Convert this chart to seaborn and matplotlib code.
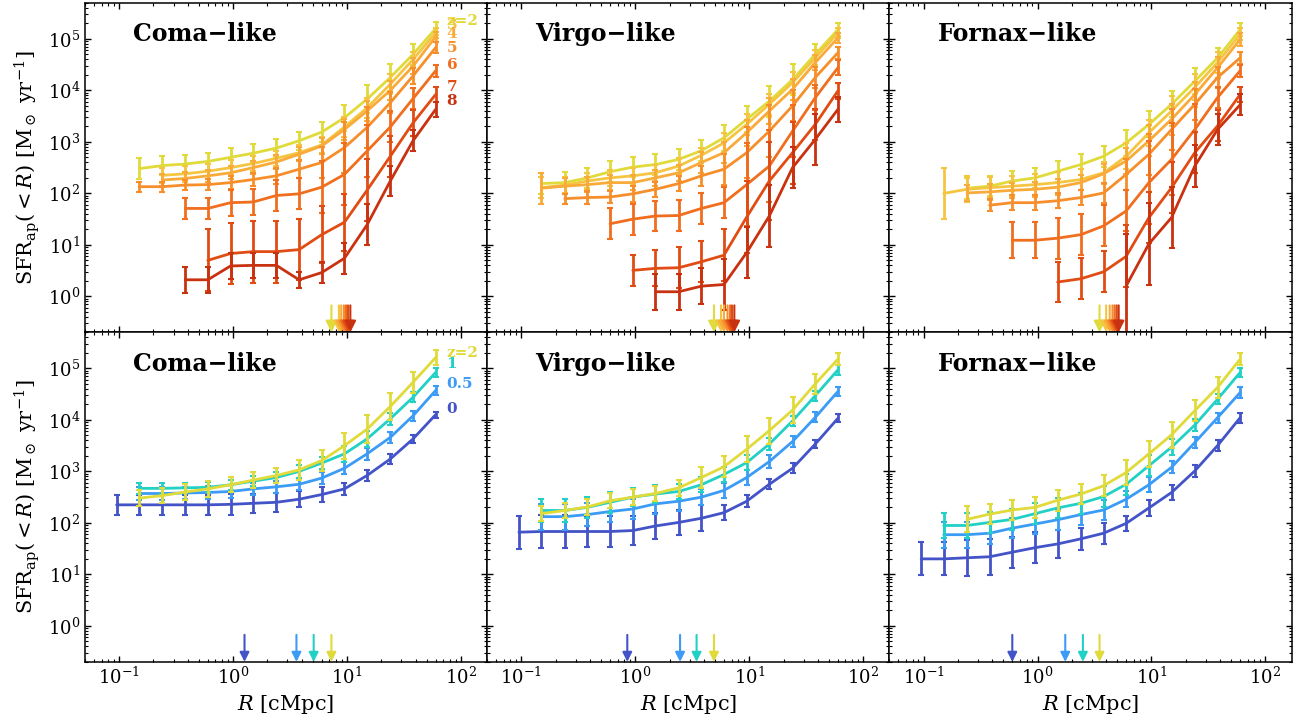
import numpy as np
import seaborn as sns
import matplotlib.pyplot as plt

N = None
# radial bins [cMpc]
R = np.array([0.095, 0.15, 0.24, 0.38, 0.6, 0.95, 1.5, 2.4, 3.8, 6.0, 9.5, 15, 24, 38, 60])

panel_names = ['Coma\u2212like', 'Virgo\u2212like', 'Fornax\u2212like']

# high-z (top row): z = 2..8
hiz_labels = ['z=2', '3', '4', '5', '6', '7', '8']
hiz_label_y = [2.2e5, 1.85e5, 1.23e5, 6.6e4, 3.1e4, 1.15e4, 6.2e3]
hiz_colors = ['#e0da3a', '#f5c542', '#f8ab3a', '#f68f2b', '#f06e1e', '#e04c14', '#c83210']

coma_hiz = [
    [N, 302, 347, 372, 417, 501, 603, 759, 1050, 1550, 2950, 6760, 17800, 50100, 158000],
    [N, N, 224, 240, 269, 316, 380, 479, 617, 871, 1950, 4570, 13200, 39800, 132000],
    [N, N, 182, 195, 219, 251, 316, 407, 575, 832, 1740, 3980, 10000, 29500, 110000],
    [N, 135, 135, 145, 148, 162, 186, 219, 295, 398, 776, 1910, 5750, 19100, 67600],
    [N, N, N, 51, 51, 66, 68, 91, 98, 132, 234, 661, 1950, 6920, 24000],
    [N, N, N, N, 5.0, 6.8, 7.4, 7.4, 8.1, 15.8, 27.5, 115, 525, 2340, 8320],
    [N, N, N, 2.1, 2.1, 3.9, 4.0, 4.0, 2.1, 2.9, 5.5, 24.5, 174, 1050, 4270],
]
coma_hiz_err = [
    [N, .2, .18, .17, .17, .18, .18, .17, .17, .2, .25, .27, .27, .2, .12],
    [N, N, .15, .15, .15, .15, .15, .15, .15, .15, .2, .2, .2, .15, .1],
    [N, N, .12, .12, .12, .13, .13, .13, .14, .15, .2, .2, .18, .15, .1],
    [N, .1, .1, .1, .1, .12, .12, .15, .18, .3, .5, .4, .2, .15, .1],
    [N, N, N, .2, .2, .25, .25, .3, .3, .5, .6, .5, .3, .2, .12],
    [N, N, N, N, .6, .6, .6, .6, .6, .55, .55, .6, .4, .25, .15],
    [N, N, N, .25, .25, .25, .25, .25, .15, .2, .3, .4, .3, .2, .15],
]
virgo_hiz = [
    [N, 155, 162, 200, 263, 324, 363, 457, 676, 1200, 2750, 6170, 16200, 50100, 151000],
    [N, 129, 145, 174, 200, 219, 251, 339, 550, 955, 2190, 5370, 14100, 42700, 132000],
    [N, 126, 138, 148, 162, 162, 200, 251, 398, 617, 1510, 3980, 10500, 34700, 105000],
    [N, N, 79, 83, 85, 98, 120, 155, 219, 295, 617, 1620, 5010, 17800, 53700],
    [N, N, N, N, 25.7, 31.6, 36.3, 37.2, 51, 66, 148, 339, 1620, 7240, 27500],
    [N, N, N, N, N, 3.2, 3.5, 3.6, 4.7, 6.3, 34.7, 174, 617, 2190, 9770],
    [N, N, N, N, N, N, 1.23, 1.23, 1.58, 1.70, 7.1, 36.3, 316, 1120, 4270],
]
virgo_hiz_err = [
    [N, .2, .2, .2, .2, .2, .2, .2, .2, .25, .25, .3, .3, .2, .12],
    [N, .2, .15, .15, .15, .15, .15, .15, .15, .2, .2, .2, .2, .15, .1],
    [N, .3, .15, .15, .15, .15, .15, .15, .2, .2, .25, .25, .2, .15, .1],
    [N, N, .1, .12, .12, .15, .15, .15, .2, .3, .5, .5, .3, .2, .12],
    [N, N, N, N, .3, .3, .3, .3, .3, .3, .8, .7, .5, .25, .15],
    [N, N, N, N, N, .3, .35, .4, .4, .5, .7, .75, .6, .3, .15],
    [N, N, N, N, N, N, .35, .35, .35, .5, .5, .6, .4, .5, .25],
]
fornax_hiz = [
    [N, N, 126, 138, 174, 200, 269, 363, 525, 955, 2190, 5370, 15100, 42700, 151000],
    [N, 100, 120, 129, 138, 148, 162, 186, 251, 525, 1510, 3980, 11500, 34700, 123000],
    [N, N, 102, 107, 115, 120, 132, 162, 240, 427, 1050, 2750, 8320, 27500, 97700],
    [N, N, N, 59, 66, 66, 72, 83, 102, 234, 575, 1740, 5370, 17800, 42700],
    [N, N, N, N, 12.3, 12.3, 13.5, 15.8, 23.4, 45.7, 162, 457, 1740, 7240, 24000],
    [N, N, N, N, N, N, 1.9, 2.2, 3.0, 6.0, 33.9, 129, 617, 2040, 8320],
    [N, N, N, N, N, N, N, N, N, 1.6, 10.5, 33.9, 339, 1740, 5250],
]
fornax_hiz_err = [
    [N, N, .2, .2, .2, .2, .2, .2, .2, .25, .25, .25, .25, .2, .12],
    [N, .5, .25, .2, .2, .2, .2, .2, .2, .25, .25, .3, .25, .2, .12],
    [N, N, .15, .15, .15, .15, .15, .15, .2, .25, .3, .3, .25, .2, .12],
    [N, N, N, .12, .15, .15, .15, .15, .2, .3, .4, .4, .3, .2, .12],
    [N, N, N, N, .35, .35, .4, .4, .4, .4, .8, .7, .5, .2, .12],
    [N, N, N, N, N, N, .38, .4, .4, .6, .5, .5, .4, .3, .15],
    [N, N, N, N, N, N, N, N, N, 1.0, .8, .6, .4, .3, .2],
]
hiz_arrows = [
    [7.3, 8.5, 8.9, 9.4, 9.8, 10.2, 10.7],
    [4.9, 5.65, 6.0, 6.45, 6.8, 7.05, 7.4],
    [3.5, 4.0, 4.3, 4.55, 4.75, 4.95, 5.15],
]

# low-z (bottom row): z = 0, 0.5, 1, 2
loz_labels = ['0', '0.5', '1', 'z=2']
loz_label_y = [1.66e4, 5.0e4, 1.23e5, 2.0e5]
loz_colors = ['#4353c8', '#3b9bf5', '#22d0c6', '#e0da3a']

coma_loz = [
    [224, 224, 224, 224, 224, 229, 240, 251, 288, 355, 457, 832, 1740, 4270, 12600],
    [N, 372, 372, 380, 389, 407, 457, 501, 562, 741, 1150, 2190, 4570, 12000, 37200],
    [N, 468, 468, 479, 490, 550, 646, 759, 1000, 1450, 2190, 4270, 10500, 27500, 83200],
    [N, 302, 339, 398, 457, 550, 676, 832, 1070, 1620, 3160, 6610, 18200, 53700, 162000],
]
coma_loz_err = [
    [.2, .2, .2, .2, .2, .2, .18, .18, .16, .15, .12, .1, .1, .08, .06],
    [N, .12, .12, .12, .12, .12, .12, .12, .12, .12, .12, .12, .1, .1, .08],
    [N, .1, .1, .1, .1, .1, .1, .1, .12, .12, .15, .15, .12, .1, .08],
    [N, .15, .15, .15, .15, .15, .15, .15, .2, .2, .25, .27, .27, .2, .15],
]
virgo_loz = [
    [66, 68, 68, 68, 68, 71, 87, 102, 123, 158, 263, 562, 1150, 3390, 10700],
    [N, 132, 132, 145, 166, 186, 234, 263, 316, 427, 759, 1550, 3800, 11200, 35500],
    [N, 174, 174, 200, 251, 316, 363, 407, 550, 871, 1480, 3390, 9550, 29500, 93300],
    [N, 151, 174, 204, 269, 316, 372, 479, 759, 1230, 2690, 6170, 15500, 50100, 151000],
]
virgo_loz_err = [
    [.32, .32, .32, .3, .3, .28, .25, .25, .25, .15, .12, .1, .1, .08, .08],
    [N, .25, .25, .22, .2, .2, .2, .18, .15, .15, .15, .12, .1, .1, .08],
    [N, .22, .22, .2, .2, .18, .18, .15, .15, .15, .15, .12, .1, .1, .1],
    [N, .15, .15, .15, .15, .15, .15, .15, .2, .2, .25, .25, .25, .2, .12],
]
fornax_loz = [
    [20, 20, 21, 22, 27, 33, 39, 49, 63, 98, 195, 389, 1020, 3160, 11000],
    [N, 59, 59, 63, 79, 95, 115, 145, 178, 288, 550, 1200, 3630, 11000, 33900],
    [N, 89, 89, 102, 117, 151, 195, 240, 324, 562, 1290, 2950, 7940, 25100, 83200],
    [N, N, 117, 148, 178, 200, 275, 363, 525, 955, 2190, 5130, 15100, 42700, 151000],
]
fornax_loz_err = [
    [.32, .32, .35, .35, .3, .3, .28, .22, .2, .15, .15, .15, .12, .1, .1],
    [N, .25, .25, .2, .2, .2, .2, .2, .2, .15, .15, .12, .1, .1, .1],
    [N, .25, .25, .2, .2, .2, .2, .2, .2, .2, .2, .15, .12, .1, .08],
    [N, N, .25, .2, .2, .2, .2, .2, .2, .25, .25, .25, .2, .2, .12],
]
loz_arrows = [
    [1.26, 3.6, 5.1, 7.3],
    [0.85, 2.47, 3.45, 4.9],
    [0.60, 1.75, 2.5, 3.5],
]

sns.set_style('ticks')
plt.rcParams['font.family'] = ['DejaVu Serif']
plt.rcParams['mathtext.fontset'] = 'dejavuserif'
for key in ['text.color', 'axes.labelcolor', 'xtick.color', 'ytick.color', 'axes.edgecolor']:
    plt.rcParams[key] = 'black'

fig, axes = plt.subplots(2, 3, figsize=(13.06, 7.21), dpi=100, sharex=True, sharey=True)
fig.subplots_adjust(left=0.065, right=0.989, top=0.996, bottom=0.082, wspace=0, hspace=0)


def draw_series(ax, vals, errs, color):
    y = np.array(vals, dtype=float)
    e = np.array(errs, dtype=float)
    m = ~np.isnan(y)
    sns.lineplot(x=R[m], y=y[m], color=color, lw=2.0, ax=ax)
    lo = y[m] - y[m] / 10 ** e[m]
    hi = y[m] * 10 ** e[m] - y[m]
    ax.errorbar(R[m], y[m], yerr=[lo, hi], fmt='none', ecolor=color,
                elinewidth=2.0, capsize=2.5, capthick=1.5)


def draw_arrow(ax, x, color, scale):
    ax.annotate('', xy=(x, 0.0), xytext=(x, 0.082),
                xycoords=('data', 'axes fraction'), textcoords=('data', 'axes fraction'),
                arrowprops=dict(arrowstyle='-|>', color=color, lw=1.5,
                                mutation_scale=scale, shrinkA=0, shrinkB=0))


top_data = [(coma_hiz, coma_hiz_err), (virgo_hiz, virgo_hiz_err), (fornax_hiz, fornax_hiz_err)]
bot_data = [(coma_loz, coma_loz_err), (virgo_loz, virgo_loz_err), (fornax_loz, fornax_loz_err)]

for j in range(3):
    for i in range(2):
        axes[i, j].set_xscale('log')
        axes[i, j].set_yscale('log')

    ax = axes[0, j]
    vals, errs = top_data[j]
    for v, e, c in zip(vals, errs, hiz_colors):
        draw_series(ax, v, e, c)
    for x, c in zip(hiz_arrows[j], hiz_colors):
        draw_arrow(ax, x, c, 17)
    if j == 0:
        for ly, c, lab in zip(hiz_label_y, hiz_colors, hiz_labels):
            ax.text(75, ly, lab, color=c, fontsize=11, fontweight='bold',
                    ha='left', va='center')

    ax = axes[1, j]
    vals, errs = bot_data[j]
    for v, e, c in zip(vals, errs, loz_colors):
        draw_series(ax, v, e, c)
    for x, c in zip(loz_arrows[j], loz_colors):
        draw_arrow(ax, x, c, 14)
    if j == 0:
        for ly, c, lab in zip(loz_label_y, loz_colors, loz_labels):
            ax.text(75, ly, lab, color=c, fontsize=11, fontweight='bold',
                    ha='left', va='center')

for i in range(2):
    for j in range(3):
        ax = axes[i, j]
        ax.set_xlim(0.05, 170)
        ax.set_ylim(0.2, 5e5)
        ax.text(0.12, 0.905, panel_names[j], transform=ax.transAxes, fontsize=17,
                fontweight='bold', ha='left', va='center', color='black')
        ax.tick_params(which='both', direction='in', top=True, right=True, labelsize=13)
        ax.tick_params(which='major', length=4.5, width=1)
        ax.tick_params(which='minor', length=2.5, width=0.8)
        for s in ax.spines.values():
            s.set_linewidth(1.1)
        ax.set_xlabel('')
        ax.set_ylabel('')
    axes[i, 0].set_ylabel(r'$\mathrm{SFR_{ap}}(<R)$ [M$_\odot$ yr$^{-1}$]', fontsize=15)
for j in range(3):
    axes[1, j].set_xlabel(r'$R$ [cMpc]', fontsize=15)

plt.savefig('out.png', dpi=100)
